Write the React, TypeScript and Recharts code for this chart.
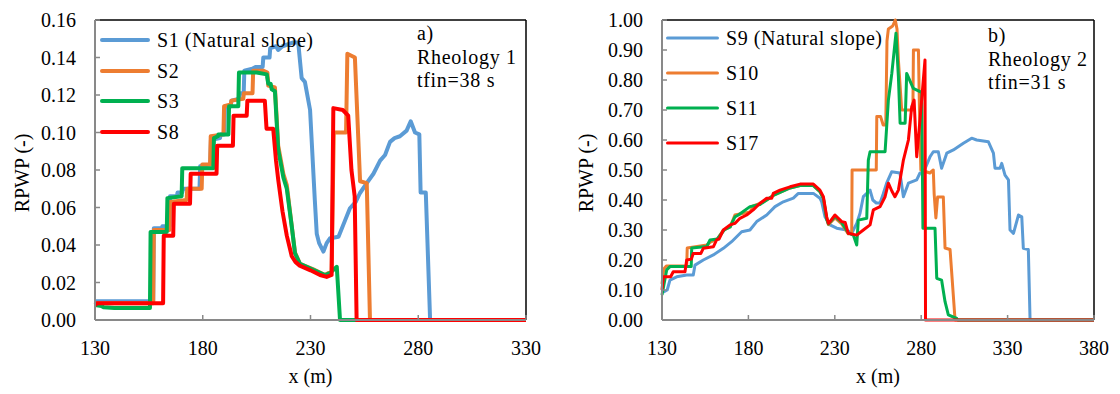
import React from "react";
import { LineChart, Line, XAxis, YAxis, ReferenceLine, Legend, Label } from "recharts";

const FONT = "'Liberation Serif', 'Times New Roman', serif";
const BLUE = "#5B9BD5";
const ORANGE = "#ED7D31";
const GREEN = "#00B050";
const RED = "#FF0000";
const AXIS = "#898989";
const txt: React.CSSProperties = { fontFamily: FONT, fontSize: 20 };

// panel a) Rheology 1, [x (m), RPWP]
const s1 = [
  [130, 0.01], [157, 0.01], [157.3, 0.049], [161, 0.049], [161.3, 0.05], [164.5, 0.05], [164.8, 0.066],
  [168, 0.066], [168.3, 0.068], [170.5, 0.068], [170.8, 0.07], [178.5, 0.07], [178.8, 0.082], [183.5, 0.083],
  [183.8, 0.096], [188, 0.097], [188.3, 0.099], [190, 0.099], [190.3, 0.113], [193, 0.114], [193.3, 0.117],
  [197, 0.118], [197.3, 0.121], [199, 0.121], [199.3, 0.133], [203, 0.134], [204.5, 0.135], [207.8, 0.135],
  [208.1, 0.14], [211, 0.14], [211.3, 0.145], [214, 0.146], [215, 0.144], [217, 0.146], [222, 0.148],
  [224.3, 0.148], [225.9, 0.129], [227.4, 0.127], [229.8, 0.112], [232, 0.064], [232.9, 0.046], [234, 0.041],
  [236, 0.0365], [237.5, 0.041], [239.1, 0.0436], [243, 0.0444], [246, 0.053], [248.3, 0.0596], [251, 0.063],
  [252.9, 0.0676], [256.1, 0.073], [259.2, 0.078], [262.3, 0.085], [264.6, 0.088], [266.9, 0.095], [269, 0.097],
  [271.5, 0.098], [274.6, 0.101], [276.5, 0.106], [278.5, 0.1], [280.5, 0.099], [281.1, 0.068], [283.5, 0.068],
  [285.5, 0], [330, 0],
];
const s2 = [
  [130, 0.009], [157, 0.009], [157.3, 0.048], [164.5, 0.048], [164.8, 0.063], [172.5, 0.064], [172.8, 0.07],
  [179.5, 0.07], [179.8, 0.083], [183.4, 0.083], [183.7, 0.098], [189.6, 0.099], [189.9, 0.114], [193, 0.115],
  [193.3, 0.117], [198.8, 0.118], [199.1, 0.121], [203.1, 0.121], [203.4, 0.133], [208, 0.133], [210, 0.132],
  [210.4, 0.125], [213.5, 0.124], [214.2, 0.11], [215, 0.093], [217.4, 0.078], [219, 0.072], [221.3, 0.05],
  [222.8, 0.036], [225.1, 0.03], [231.3, 0.027], [236.7, 0.024], [239.8, 0.026], [240.8, 0.1], [246.5, 0.1],
  [247.1, 0.142], [250.6, 0.14], [253, 0.074], [256.1, 0.073], [257.6, 0], [330, 0],
];
const s3 = [
  [130, 0.008], [133, 0.0075], [134, 0.0068], [139, 0.0064], [155.5, 0.0064], [155.8, 0.047], [163.3, 0.047],
  [163.6, 0.065], [170.2, 0.066], [170.5, 0.081], [184.9, 0.081], [185.2, 0.097], [187, 0.098], [187.3, 0.099],
  [191.9, 0.099], [192.2, 0.114], [196.5, 0.114], [196.8, 0.132], [205, 0.132], [209.7, 0.131], [210.4, 0.126],
  [211.5, 0.126], [212, 0.123], [213.5, 0.122], [215, 0.091], [217.4, 0.076], [219, 0.07], [221.3, 0.05],
  [222.8, 0.0356], [225.1, 0.03], [231.3, 0.0267], [236.7, 0.024], [239, 0.025], [242.2, 0.0284], [243.7, 0],
  [330, 0],
];
const s8 = [
  [130, 0.008], [131, 0.009], [161.6, 0.009], [161.9, 0.045], [166.3, 0.045], [166.6, 0.062], [174.1, 0.062],
  [174.4, 0.078], [186.4, 0.078], [186.7, 0.093], [194, 0.093], [194.3, 0.109], [200.4, 0.109], [200.7, 0.117],
  [208.8, 0.117], [209.6, 0.102], [212.7, 0.102], [214, 0.085], [215, 0.075], [217, 0.058], [219, 0.045],
  [221.3, 0.034], [223, 0.031], [225, 0.029], [230, 0.0265], [234.4, 0.024], [237.5, 0.023], [239.8, 0.024],
  [240.6, 0.113], [245, 0.112], [247.5, 0.109], [249, 0.08], [250.5, 0.066], [251.4, 0], [330, 0],
];

// panel b) Rheology 2
const s9 = [
  [130, 0.094], [131, 0.094], [133, 0.1], [134.6, 0.133], [138.5, 0.144], [144.3, 0.15], [148.1, 0.15],
  [149.1, 0.183], [153.9, 0.2], [159.7, 0.217], [165.5, 0.239], [170.3, 0.261], [176.1, 0.294], [180.9, 0.3],
  [184.8, 0.328], [190.6, 0.35], [195.4, 0.378], [200.2, 0.394], [206, 0.406], [208.9, 0.422], [217.6, 0.422],
  [221.4, 0.406], [222.4, 0.394], [224.3, 0.344], [227.2, 0.317], [231.1, 0.306], [236.9, 0.3], [239.8, 0.289],
  [242.7, 0.322], [244.6, 0.356], [246.5, 0.411], [248.5, 0.422], [250.4, 0.433], [252, 0.4], [254, 0.39],
  [256.2, 0.39], [258, 0.42], [260, 0.456], [262.9, 0.494], [267.7, 0.49], [269.7, 0.411], [272.6, 0.456],
  [277.4, 0.467], [279.3, 0.49], [281.2, 0.49], [285.1, 0.544], [287, 0.561], [289.9, 0.561], [291.8, 0.506],
  [294.8, 0.556], [298.6, 0.567], [304.4, 0.589], [309.2, 0.606], [312.1, 0.6], [318.9, 0.594], [321.8, 0.556],
  [322.7, 0.506], [325.6, 0.506], [326.6, 0.522], [328.5, 0.483], [330.5, 0.467], [331.4, 0.3], [333.4, 0.289],
  [336.3, 0.35], [338.2, 0.344], [339.1, 0.239], [342, 0.235], [343, 0], [380, 0],
];
const s10 = [
  [130, 0.12], [131, 0.17], [132.5, 0.18], [144.3, 0.18], [144.6, 0.24], [156, 0.25], [158, 0.26], [162, 0.27],
  [165.5, 0.3], [169.4, 0.31], [172.2, 0.35], [181, 0.36], [182.8, 0.38], [186.7, 0.389], [190.6, 0.4],
  [194.4, 0.415], [198.3, 0.425], [204.1, 0.44], [209.9, 0.448], [217.6, 0.448], [221.4, 0.428], [223.4, 0.405],
  [225.3, 0.34], [226.3, 0.318], [230.1, 0.34], [234, 0.32], [237.8, 0.287], [239.8, 0.29], [240, 0.5],
  [254, 0.5], [254.3, 0.678], [256.5, 0.678], [258, 0.65], [259.5, 0.65], [260.2, 0.93], [261, 0.97],
  [263.5, 0.98], [265, 1.0], [266, 0.97], [266.8, 0.867], [268.7, 0.7], [275.2, 0.7], [275.5, 0.9],
  [278.4, 0.9], [279, 0.7], [279.8, 0.5], [285, 0.49], [287, 0.5], [287.5, 0.42], [288.5, 0.34], [289.5, 0.41],
  [292.8, 0.41], [293.8, 0.24], [296.7, 0.235], [299.6, 0], [380, 0],
];
const s11 = [
  [130, 0.083], [132.7, 0.167], [134.6, 0.178], [146.9, 0.178], [147.2, 0.24], [155.9, 0.245], [157.8, 0.267],
  [162, 0.27], [166, 0.3], [169.4, 0.31], [172.2, 0.344], [174.2, 0.35], [180.9, 0.378], [186.7, 0.385],
  [190.6, 0.4], [194.4, 0.415], [198.3, 0.425], [204.1, 0.44], [209.9, 0.448], [217.6, 0.448], [221.4, 0.428],
  [223.4, 0.405], [225.3, 0.335], [226.3, 0.32], [230.1, 0.345], [234, 0.325], [237.8, 0.29], [240.7, 0.283],
  [242.7, 0.25], [243.6, 0.333], [248.5, 0.339], [249.4, 0.533], [250.4, 0.561], [259.1, 0.561], [261, 0.733],
  [263, 0.822], [265.4, 0.956], [266.8, 0.811], [267.8, 0.656], [270.7, 0.656], [271.6, 0.822], [275.4, 0.772],
  [279.3, 0.761], [280.3, 0.761], [281, 0.306], [288, 0.306], [289, 0.139], [291.8, 0.133], [293.8, 0.061],
  [295.7, 0.017], [300.6, 0.005], [301.2, 0], [380, 0],
];
const s17 = [
  [130, 0.1], [130.8, 0.144], [135, 0.144], [136.5, 0.161], [143.3, 0.161], [144.3, 0.2], [147, 0.203],
  [148.1, 0.222], [152.5, 0.222], [153.9, 0.239], [159.7, 0.244], [161.6, 0.267], [163, 0.27], [165.5, 0.3],
  [169.4, 0.317], [172.2, 0.322], [175.1, 0.339], [179, 0.35], [182.8, 0.367], [186.7, 0.389], [190.6, 0.406],
  [193.5, 0.406], [194.4, 0.422], [198.3, 0.433], [204.1, 0.444], [209.9, 0.453], [217.6, 0.453], [221.4, 0.433],
  [223.4, 0.411], [225.3, 0.344], [226.3, 0.322], [227.2, 0.328], [230.1, 0.35], [234, 0.328], [236, 0.325],
  [237.8, 0.289], [242.7, 0.283], [246.5, 0.3], [250.4, 0.317], [252.3, 0.367], [256.2, 0.378], [259.1, 0.411],
  [261, 0.456], [263, 0.43], [264.8, 0.411], [266.8, 0.433], [269.7, 0.533], [272.6, 0.6], [274.5, 0.711],
  [275.9, 0.733], [277.4, 0.544], [279.3, 0.667], [282.2, 0.867], [282.5, 0], [380, 0],
];

const xTicksA = [130, 180, 230, 280, 330];
const yTicksA = [0, 0.02, 0.04, 0.06, 0.08, 0.1, 0.12, 0.14, 0.16];
const xTicksB = [130, 180, 230, 280, 330, 380];
const yTicksB = [0, 0.1, 0.2, 0.3, 0.4, 0.5, 0.6, 0.7, 0.8, 0.9, 1.0];

const toPts = (arr: number[][]) => arr.map(([x, y]) => ({ x, y }));

type Series = { name: string; color: string; data: { x: number; y: number }[] };

const seriesA: Series[] = [
  { name: "S1 (Natural slope)", color: BLUE, data: toPts(s1) },
  { name: "S2", color: ORANGE, data: toPts(s2) },
  { name: "S3", color: GREEN, data: toPts(s3) },
  { name: "S8", color: RED, data: toPts(s8) },
];
const seriesB: Series[] = [
  { name: "S9 (Natural slope)", color: BLUE, data: toPts(s9) },
  { name: "S10", color: ORANGE, data: toPts(s10) },
  { name: "S11", color: GREEN, data: toPts(s11) },
  { name: "S17", color: RED, data: toPts(s17) },
];

const YTick = (props: any) => {
  const { x, y, payload } = props;
  return (
    <g>
      <line x1={x} x2={x + 5} y1={y} y2={y} stroke={AXIS} strokeWidth={1.5} />
      <text x={x - 19} y={y} dy="0.36em" textAnchor="end" style={txt} fill="#000">
        {Number(payload.value).toFixed(2)}
      </text>
    </g>
  );
};

const XTick = (props: any) => {
  const { x, y, payload } = props;
  return (
    <g>
      <line x1={x} x2={x} y1={y} y2={y - 5} stroke={AXIS} strokeWidth={1.5} />
      <text x={x} y={y + 28} dy="0.36em" textAnchor="middle" style={txt} fill="#000">
        {payload.value}
      </text>
    </g>
  );
};

const YTitle = (cx: number) => (props: any) => {
  const cy = props.viewBox.y + props.viewBox.height / 2 + 3;
  return (
    <text x={cx} y={cy} transform={`rotate(-90 ${cx} ${cy})`} textAnchor="middle" dy="0.36em" style={txt} fill="#000">
      RPWP (-)
    </text>
  );
};

const XTitle = (props: any) => {
  const cx = props.viewBox.x + props.viewBox.width / 2;
  return (
    <text x={cx} y={383} textAnchor="middle" style={txt} fill="#000">
      x (m)
    </text>
  );
};

// legend built straight from the series list so the order stays as drawn
const legendContent = (series: Series[], rowH: number, lineW: number, sw: number) => () => (
  <div style={{ fontFamily: FONT }}>
    {series.map((s) => (
      <div key={s.name} style={{ display: "flex", alignItems: "center", height: rowH }}>
        <svg width={lineW} height={8}>
          <line x1={sw / 2} x2={lineW - sw / 2} y1={4} y2={4} stroke={s.color} strokeWidth={sw} strokeLinecap="round" />
        </svg>
        <span style={{ marginLeft: 7, fontSize: 20, lineHeight: 1, letterSpacing: 0.55, whiteSpace: "nowrap" }}>
          {s.name}
        </span>
      </div>
    ))}
  </div>
);

type PanelProps = {
  series: Series[];
  width: number;
  yWidth: number;
  right: number;
  xMax: number;
  yMax: number;
  xTicks: number[];
  yTicks: number[];
  lineW: number;
  legendStyle: React.CSSProperties;
  legendRow: number;
  legendLine: number;
  titleX: number;
};

const Panel = (p: PanelProps) => (
  <LineChart width={p.width} height={394} margin={{ top: 20, right: p.right, bottom: 0, left: 0 }}>
    <XAxis
      dataKey="x"
      type="number"
      domain={[130, p.xMax]}
      ticks={p.xTicks}
      height={74}
      tickSize={0}
      tickMargin={0}
      tickLine={false}
      tick={<XTick />}
      axisLine={{ stroke: AXIS, strokeWidth: 2 }}
    >
      <Label content={XTitle} />
    </XAxis>
    <YAxis
      type="number"
      domain={[0, p.yMax]}
      ticks={p.yTicks}
      width={p.yWidth}
      tickSize={0}
      tickMargin={0}
      tickLine={false}
      tick={<YTick />}
      axisLine={{ stroke: AXIS, strokeWidth: 2 }}
    >
      <Label content={YTitle(p.titleX)} />
    </YAxis>
    <ReferenceLine y={p.yMax} stroke="#000" strokeWidth={1.5} />
    <ReferenceLine x={p.xMax} stroke="#000" strokeWidth={1.5} />
    {p.series.map((s) => (
      <Line
        key={s.name}
        name={s.name}
        data={s.data}
        dataKey="y"
        type="linear"
        stroke={s.color}
        strokeWidth={p.lineW}
        strokeLinejoin="round"
        dot={false}
        activeDot={false}
        isAnimationActive={false}
      />
    ))}
    <Legend
      layout="vertical"
      align="center"
      verticalAlign="middle"
      wrapperStyle={p.legendStyle}
      content={legendContent(p.series, p.legendRow, p.legendLine, p.lineW)}
    />
  </LineChart>
);

const noteStyle: React.CSSProperties = {
  position: "absolute",
  fontSize: 20,
  lineHeight: "23.5px",
  letterSpacing: 0.7,
  color: "#000",
  whiteSpace: "nowrap",
};

export default function App() {
  return (
    <div
      style={{
        position: "absolute",
        left: 0,
        top: 0,
        width: 1120,
        height: 394,
        background: "#fff",
        fontFamily: FONT,
        overflow: "hidden",
      }}
    >
      <div style={{ position: "absolute", left: 0, top: 0 }}>
        <Panel
          series={seriesA}
          width={550}
          yWidth={95}
          right={24}
          xMax={330}
          yMax={0.16}
          xTicks={xTicksA}
          yTicks={yTicksA}
          lineW={4}
          legendStyle={{ left: 100, top: 25, width: 260, height: 124 }}
          legendRow={30.5}
          legendLine={50}
          titleX={22}
        />
      </div>
      <div style={{ position: "absolute", left: 560, top: 0 }}>
        <Panel
          series={seriesB}
          width={558}
          yWidth={102}
          right={24}
          xMax={380}
          yMax={1.0}
          xTicks={xTicksB}
          yTicks={yTicksB}
          lineW={3}
          legendStyle={{ left: 106, top: 20, width: 260, height: 142 }}
          legendRow={35.2}
          legendLine={53}
          titleX={26}
        />
      </div>
      <div style={{ ...noteStyle, left: 417, top: 22 }}>
        a)
        <br />
        Rheology 1
        <br />
        tfin=38 s
      </div>
      <div style={{ ...noteStyle, left: 988, top: 24 }}>
        b)
        <br />
        Rheology 2
        <br />
        tfin=31 s
      </div>
    </div>
  );
}
